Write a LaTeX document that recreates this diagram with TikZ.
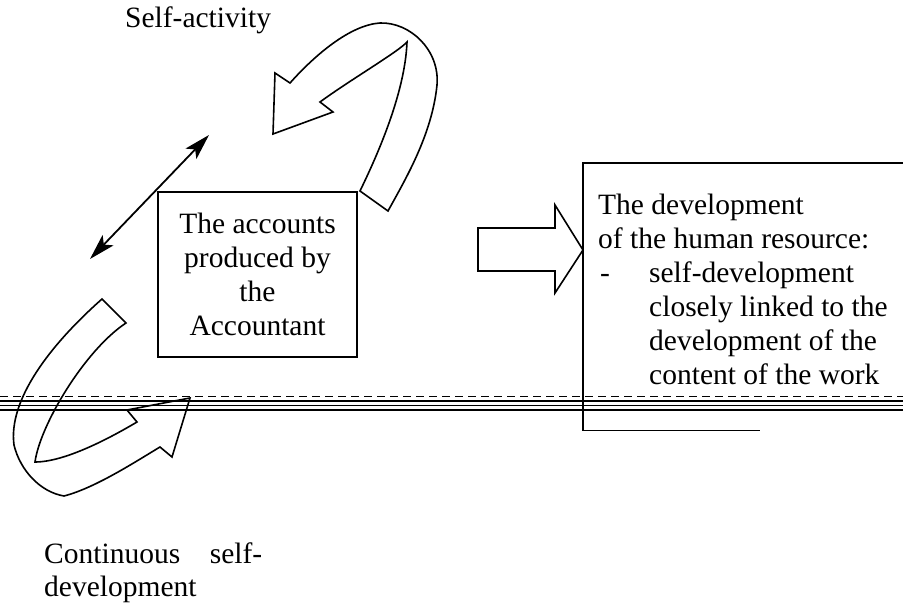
\documentclass[tikz,border=0pt]{standalone}
\usepackage{fontspec}
\setmainfont{Liberation Serif}
\usetikzlibrary{arrows.meta}
\begin{document}
\begin{tikzpicture}[x=1pt,y=-1pt,
  outline/.style={draw=black, line width=1.6pt, line join=miter},
  txt/.style={inner sep=0pt, font=\fontsize{29.5}{34}\selectfont},
  boxline/.style={draw=black, line width=1.6pt},
  rule/.style={draw=black, line width=#1},
  twoway/.style={line width=1.8pt, >={Stealth[length=26pt,width=15pt,inset=6pt]}, <->},
]
\useasboundingbox (0,0) rectangle (903,610);

% labels outside the boxes
\node[txt, anchor=base west] (selfact) at (125,28) {Self-activity};
\node[txt, anchor=base west] (cont1) at (44,563) {\makebox[218pt][l]{Continuous\hfill self-}};
\node[txt, anchor=base west] (cont2) at (44,596) {development};

% central box
\node[txt, boxline, align=center, minimum width=199pt, minimum height=165pt]
  (acc) at (257.5,274.5) {The accounts\\produced by\\the\\Accountant};

% box on the right, running off the page edge
\node[inner sep=0pt, minimum width=330pt, minimum height=267pt, anchor=north west]
  (dev) at (583,163) {};
\draw[boxline] (dev.north east) -- (dev.north west) -- (dev.south west) -- ++(177,0);
\node[txt, anchor=north west, align=left] (devtext) at (598,194)
  {The development\\of the human resource:\\
   \makebox[51pt][l]{\hspace{2pt}-}self-development\\
   \hspace{51pt}closely linked to the\\
   \hspace{51pt}development of the\\
   \hspace{51pt}content of the work};

% block arrow pointing at the right box
\draw[outline] (478,228) -- (555,228) -- (555,205) -- (dev.west |- 0,250) -- (555,293)
  -- (555,271) -- (478,271) -- cycle;

% double-headed arrow
\coordinate (dlow) at (90,259);
\coordinate (dup) at (209,135);
\draw[twoway] (dlow) -- (dup);

% curved arrow at the top (self-activity)
\draw[outline, fill=white]
  (360,191) .. controls (375,160) and (405,95) .. (407,42)
  .. controls (398,52) and (350,80) .. (320,102)
  -- (333,112) -- (273,134) -- (275,73) -- (290,83)
  .. controls (315,55) and (350,25) .. (380,23)
  .. controls (410,22) and (440,50) .. (437,85)
  .. controls (432,135) and (405,180) .. (388,211)
  -- cycle;

% curved arrow at the bottom left (continuous self-development)
\draw[outline, fill=white]
  (102,299) .. controls (50,345) and (8,400) .. (14,445)
  .. controls (20,470) and (40,492) .. (64,496)
  .. controls (95,488) and (135,462) .. (160,447)
  -- (172,457) -- (190,398) -- (127,410) -- (137,422)
  .. controls (110,438) and (65,462) .. (35,462)
  .. controls (40,425) and (85,350) .. (126,323)
  -- cycle;

% horizontal rules across the page
\draw[rule=0.6pt, dashed, dash pattern=on 8pt off 5pt] (0,396) -- (903,396);
\draw[rule=1.4pt] (0,401) -- (903,401);
\draw[rule=1.4pt] (0,405.5) -- (903,405.5);
\draw[rule=2pt] (0,410) -- (903,410);
\end{tikzpicture}
\end{document}
